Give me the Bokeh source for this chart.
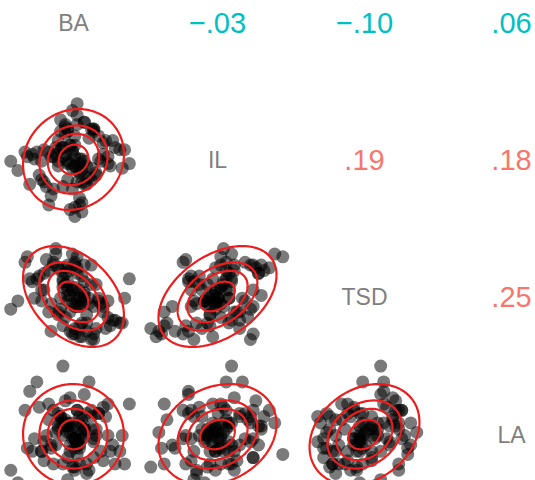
import numpy as np
from bokeh.plotting import figure
from bokeh.models import Range1d
from bokeh.core.properties import value
from bokeh.embed import file_html
from bokeh.resources import INLINE

# ---------------- data ----------------
variables = ["BA", "IL", "TSD", "LA"]

BA = [0.3, -1.2, 0.8, -0.4, 1.5, 0.1, -0.7, 2.1, -1.8, 0.5,
      -0.2, 1.1, -0.9, 0.0, 0.6, -1.5, 0.4, -0.3, 1.8, -0.6,
      0.2, -2.3, 0.9, -0.1, 1.3, -1.0, 0.7, -0.5, 0.1, 2.4,
      -1.3, 0.3, -0.8, 1.0, -0.2, 0.5, -1.7, 0.2, 1.6, -0.4,
      0.0, -1.1, 0.8, 0.4, -0.6, 1.2, -2.0, 0.6, -0.3, 0.9,
      -0.9, 0.1, 1.4, -0.5, 0.3, -1.4, 2.0, -0.1, 0.7, -0.7,
      0.4, -0.2, 1.1, -1.6, 0.2, 0.8, -0.4, -2.6, 0.5, 1.7,
      -0.8, 0.0, 0.6, -1.2, 1.0, -0.3, 0.3, -1.9, 1.3, -0.6,
      0.1, 0.9, -1.0, 2.2, -0.1, 0.4, -0.5, 1.5, -1.3, 0.2,
      0.1, -0.2, 0.3, 0.0, -0.1, 0.4, -0.3, 0.2, 0.5, -0.4,
      0.1, 0.0, 0.3, -0.2]

IL = [-0.5, -0.9, 1.4, -1.1, 0.2, -2.0, 0.6, -0.3, -1.0, 1.7,
      -0.8, 0.1, -1.5, 2.2, -0.2, 0.4, -0.9, 1.2, 0.6, 0.0,
      1.6, -0.4, 1.3, 0.7, 0.3, -1.9, -0.7, 0.5, -2.4, -0.1,
      -0.8, -1.6, 0.2, -0.5, 1.3, -1.0, 0.3, 2.0, -0.2, 0.6,
      -1.2, -1.1, -0.3, -1.8, 0.9, 0.0, 0.4, -0.7, 1.5, 1.4,
      0.2, 0.7, 0.9, 1.8, -0.1, -0.6, 0.5, -2.1, 1.0, 0.3,
      -0.4, 1.4, 1.1, 0.1, 2.5, -0.8, 0.6, 0.0, 1.7, 0.9,
      -1.2, -0.3, -1.0, 0.5, -0.6, 1.6, -1.9, 0.2, 0.8, -0.2,
      1.1, 1.4, 0.4, 0.5, 0.7, -2.2, 1.3, -0.1, 0.0, -0.9,
      0.2, 0.0, -0.3, 0.4, -0.1, 0.1, 0.3, -0.4, 0.0, 0.2,
      -0.2, 0.5, 0.1, -0.1]

TSD = [0.2, 0.2, 1.1, -1.1, -0.8, -1.4, 1.5, -1.0, 0.6, 1.1,
       0.5, -0.1, -1.3, 1.5, -0.7, 0.6, 0.7, -0.8, -0.9, 1.0,
       0.8, -0.2, -1.6, -0.6, -0.4, -0.6, -0.3, -0.1, -1.2, 0.6,
       -0.2, -0.4, 1.1, -1.2, 1.1, 0.5, 0.5, 1.0, -1.1, 0.5,
       -1.4, 1.3, 0.4, -1.0, -0.6, -0.3, 1.2, -1.0, 1.0, -0.4,
       -0.3, 1.1, -1.2, 0.9, -1.5, 0.7, -1.0, -1.3, -0.1, 1.7,
       -0.2, 0.2, -0.2, -0.1, 1.4, -1.6, 0.6, -0.5, 0.0, -0.9,
       1.2, -0.3, -1.3, 0.8, 0.4, 0.8, -1.1, 1.4, -0.6, -0.7,
       1.2, -1.4, 0.9, -0.1, 0.9, -1.5, -0.5, -0.2, 0.2, -0.4,
       0.3, -0.2, -0.1, 0.2, 0.0, -0.3, 0.4, -0.2, 0.1, 0.3,
       -0.4, 0.2, -0.1, 0.0]

LA = [0.6, -0.8, 0.8, -0.9, 1.0, -0.4, -0.3, 0.0, 1.4, 0.2,
      -1.4, 0.7, -0.4, 0.4, -0.9, 1.7, -0.1, 0.5, -0.9, 0.3,
      -0.3, -1.5, -0.2, -0.5, 0.9, 1.0, -1.1, 0.4, -1.0, 1.0,
      -0.5, -0.3, -0.9, 0.2, 0.4, 1.3, -0.5, 0.8, -0.5, 2.2,
      -0.1, 0.0, 0.2, 0.5, 0.7, -0.5, 0.8, -1.2, 1.1, -0.1,
      -0.3, -1.1, 0.6, 0.6, 0.4, 0.9, -0.5, 0.1, 1.7, 0.1,
      -0.1, -0.7, 0.7, -0.1, -0.6, 0.6, 0.4, -1.1, 0.3, -0.3,
      0.8, -1.0, 0.7, -0.2, 0.0, 0.3, -0.9, -0.4, -0.8, 0.2,
      -0.1, -0.7, 0.5, -0.9, 1.2, -2.1, 0.6, 0.0, -0.5, 0.8,
      -0.1, 0.3, 0.0, 0.2, -0.3, 0.1, 0.4, -0.2, 0.2, 0.0,
      -0.1, 0.3, -0.4, 0.1]

# upper-triangle correlations (row, col) as printed
corr_pairs = [(0, 1), (0, 2), (0, 3), (1, 2), (1, 3), (2, 3)]
corr_values = [-0.03, -0.10, 0.06, 0.19, 0.18, 0.25]
corr_labels = ["\u2212.03", "\u2212.10", ".06", ".19", ".18", ".25"]

ellipse_levels = [0.18, 0.45, 0.65, 0.90]

# ---------------- layout / style ----------------
W, H = 535, 480
CX = [73, 217, 364, 511]        # cell centres (page px)
CY = [22, 159, 296, 434]
SX = [23.5, 27.5, 25.6, 26.0]   # px per standard deviation, horizontal
SY = 23.5                       # px per standard deviation, vertical
TEAL, SALMON = "#00BFC4", "#F8766D"
FONT = value("Liberation Sans")

data = [np.array(v, dtype=float) for v in (BA, IL, TSD, LA)]
means = [d.mean() for d in data]
sds = [d.std(ddof=1) for d in data]

p = figure(width=W, height=H, x_range=Range1d(0, 1), y_range=Range1d(0, 1),
           output_backend="svg", toolbar_location=None,
           x_axis_location=None, y_axis_location=None,
           min_border=0, min_border_left=0, min_border_right=0,
           min_border_top=0, min_border_bottom=0)
p.grid.visible = False
p.outline_line_color = None
p.background_fill_color = "white"
p.border_fill_color = "white"

for k in range(4):
    m, sd = means[k], sds[k]
    p.extra_x_ranges[f"x{k}"] = Range1d(start=m + (0 - CX[k]) / SX[k] * sd,
                                        end=m + (W - CX[k]) / SX[k] * sd)
    p.extra_y_ranges[f"y{k}"] = Range1d(start=m - (H - CY[k]) / SY * sd,
                                        end=m + (CY[k] - 0) / SY * sd)

radii = [np.sqrt(-2.0 * np.log(1.0 - lv)) for lv in ellipse_levels]
t = np.linspace(0, 2 * np.pi, 240)
circle = np.vstack([np.cos(t), np.sin(t)])

# lower triangle: scatter + data ellipses
for i in range(4):
    for j in range(i):
        xr, yr = f"x{j}", f"y{i}"
        p.scatter(x=data[j], y=data[i], x_range_name=xr, y_range_name=yr,
                  size=13, fill_color="black", fill_alpha=0.52, line_color=None)
        cov = np.cov(np.vstack([data[j], data[i]]))
        L = np.linalg.cholesky(cov)
        ctr = np.array([[means[j]], [means[i]]])
        xs, ys = [], []
        for r in radii:
            pts = ctr + r * (L @ circle)
            xs.append(pts[0].tolist())
            ys.append(pts[1].tolist())
        p.multi_line(xs=xs, ys=ys, x_range_name=xr, y_range_name=yr,
                     line_color="#EE1C1C", line_width=2.2)

# diagonal: variable names
for k, name in enumerate(variables):
    p.text(x=[means[k]], y=[means[k]], text=[name],
           x_range_name=f"x{k}", y_range_name=f"y{k}",
           text_align="center", text_baseline="middle",
           text_font=FONT, text_font_size="23px", text_color="#7F7F7F")

# upper triangle: correlations
for (i, j), r, lab in zip(corr_pairs, corr_values, corr_labels):
    col = TEAL if r < 0.1 else SALMON
    p.text(x=[means[j]], y=[means[i]], text=[lab],
           x_range_name=f"x{j}", y_range_name=f"y{i}",
           text_align="center", text_baseline="middle",
           text_font=FONT, text_font_size="29px", text_color=col)

open("out.html", "w").write(file_html(p, INLINE))
